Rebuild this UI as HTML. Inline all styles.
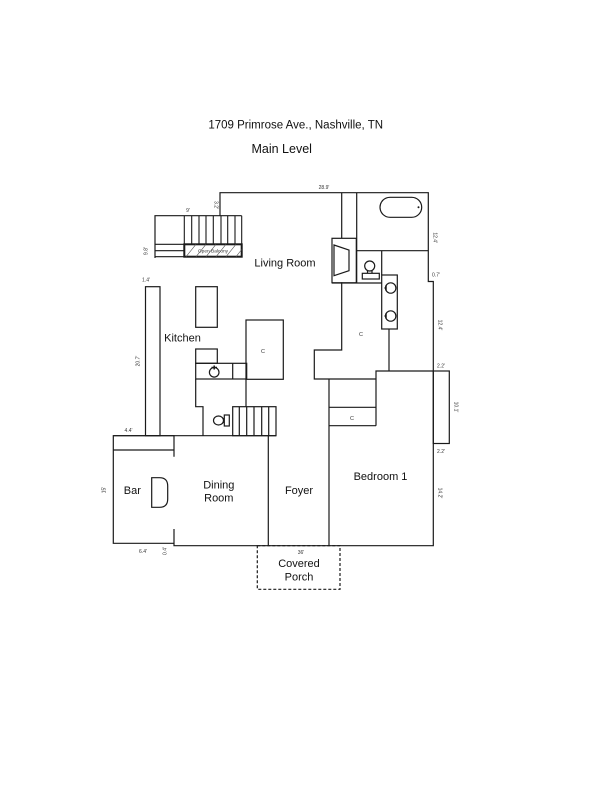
<!DOCTYPE html>
<html><head><meta charset="utf-8"><style>
html,body{margin:0;padding:0;background:#fff;}
svg{display:block;}
text{font-family:"Liberation Sans",Arial,sans-serif;}
</style></head><body>
<svg width="612" height="792" viewBox="0 0 612 792" xmlns="http://www.w3.org/2000/svg">
<rect width="612" height="792" fill="#fff"/>
<text x="295.7" y="128.5" font-size="11.5" text-anchor="middle" fill="#111">1709 Primrose Ave., Nashville, TN</text>
<text x="281.7" y="153" font-size="12.5" text-anchor="middle" fill="#111">Main Level</text>

<g fill="none" stroke="#1a1a1a" stroke-width="1.2">
<!-- outer main walls -->
<path d="M220,215.7 V192.7 H428.3 V281.5 H433.3 V545.7 H174 V529"/>
<path d="M174,456.7 V435.7 H113.3 V543.3 H174"/>
<path d="M113.3,450 H174"/>
<path d="M113.3,435.7 H276"/>
<!-- left column -->
<rect x="145.5" y="286.7" width="14.5" height="149"/>
<!-- upper left -->
<path d="M155,258 V215.7 H241.7"/>
<g stroke-width="1.1">
<path d="M184.3,215.7 V244.3 M191.7,215.7 V244.3 M199,215.7 V244.3 M206,215.7 V244.3 M213.3,215.7 V244.3 M221,215.7 V244.3 M227.7,215.7 V244.3 M235,215.7 V244.3 M241.7,215.7 V244.3"/>
</g>
<path d="M155,244.3 H241.7 M155,250.7 H184.3 M155,256.7 H184.3"/>
<rect x="184.3" y="244.3" width="57.4" height="12.4" stroke-width="2"/>
<g stroke-width="0.6" stroke="#555">
<path d="M186,256.7 L196,244.3 M196,256.7 L206,244.3 M206,256.7 L216,244.3 M216,256.7 L226,244.3 M226,256.7 L236,244.3 M236,256.7 L241.7,249.5"/>
</g>
<!-- island -->
<rect x="195.7" y="286.7" width="21.6" height="40.6"/>
<!-- closet C kitchen -->
<rect x="246" y="320" width="37.3" height="59.3"/>
<!-- counter -->
<rect x="195.7" y="349" width="21.6" height="14.3"/>
<rect x="195.7" y="363.3" width="51" height="15.7"/>
<path d="M232.7,363.3 V379"/>
<circle cx="214.2" cy="372.3" r="4.8"/>
<path d="M211.5,367.5 H217 M214.2,365.5 V369.5" stroke-width="1.5"/>
<!-- left hall wall -->
<path d="M195.7,379 V406.7 H203 V435.7"/>
<path d="M246,379 V406.7"/>
<!-- lower stairs -->
<rect x="232.7" y="406.7" width="43.3" height="29"/>
<path d="M239.3,406.7 V435.7 M246.7,406.7 V435.7 M254,406.7 V435.7 M261.7,406.7 V435.7 M268.7,406.7 V435.7"/>
<!-- lower toilet -->
<ellipse cx="218.5" cy="420.5" rx="5" ry="4.5"/>
<rect x="224.3" y="415" width="5" height="11"/>
<path d="M223.3,418.5 H224.3 M223.3,422.5 H224.3"/>
<!-- foyer / bedroom walls -->
<path d="M268.3,435.7 V545.7"/>
<path d="M329,379 V545.7"/>
<!-- hallway -->
<path d="M341.7,192.7 V238.3"/>
<path d="M341.7,282.3 V350 H314.3 V379 H376"/>
<path d="M376,425.7 V371 H433.3"/>
<path d="M329,407.3 H376 M329,425.7 H376"/>
<path d="M389,329 V371"/>
<!-- fireplace -->
<rect x="332" y="238.3" width="24.3" height="44.5"/>
<path d="M334,245 L349,250 V270.7 L334,275.7 Z"/>
<!-- bathroom -->
<path d="M356.7,192.7 V283"/>
<path d="M356.7,250.7 H428.3"/>
<path d="M332,283 H381.7"/>
<path d="M381.7,250.7 V275"/>
<rect x="380" y="197.3" width="41.7" height="20" rx="10" ry="10"/>
<!-- upper toilet -->
<circle cx="369.7" cy="266" r="5"/>
<rect x="362.3" y="273.3" width="17" height="5.7"/>
<path d="M367.5,271 V273.3 M372,271 V273.3"/>
<!-- vanity -->
<rect x="381.7" y="275" width="15.6" height="54"/>
<circle cx="390.7" cy="288" r="5.2"/>
<circle cx="390.7" cy="316" r="5.2"/>
<path d="M386,285.5 V290.5 M384.5,288 H386 M386,313.5 V318.5 M384.5,316 H386" stroke-width="1.5"/>
<!-- right bump -->
<rect x="433.3" y="371" width="16" height="72.5"/>
<!-- bar counter -->
<path d="M151.7,477.7 H159.5 Q167.7,477.7 167.7,486 V499 Q167.7,507.3 159.5,507.3 H151.7 Z"/>
<!-- porch -->
<rect x="257.3" y="545.7" width="82.7" height="43.6" stroke-dasharray="3,2"/>
</g>
<circle cx="418.5" cy="207.3" r="1" fill="#1a1a1a"/>

<!-- room labels -->
<g font-size="11" fill="#111" text-anchor="middle">
<text x="285" y="266.5">Living Room</text>
<text x="182.5" y="341.5">Kitchen</text>
<text x="132.3" y="494">Bar</text>
<text x="218.8" y="488.5">Dining</text>
<text x="218.8" y="501.5">Room</text>
<text x="299" y="494">Foyer</text>
<text x="380.5" y="480">Bedroom 1</text>
<text x="299" y="567">Covered</text>
<text x="299" y="580.5">Porch</text>
</g>

<!-- dims -->
<g font-size="5" fill="#333" text-anchor="middle">
<text x="324" y="189">28.9'</text>
<text x="188" y="212">9'</text>
<text x="146" y="281.5">1.4'</text>
<text x="128.5" y="432">4.4'</text>
<text x="143" y="553">6.4'</text>
<text x="301" y="554">36'</text>
<text x="436" y="276.5">0.7'</text>
<text x="441" y="367.5">2.2'</text>
<text x="441" y="453">2.2'</text>
<text x="263" y="353" font-size="5.5">C</text>
<text x="361" y="336" font-size="5.5">C</text>
<text x="352" y="420" font-size="5.5">C</text>
<text x="213" y="252.3" font-size="4.8">Open Balcony</text>
<text transform="translate(214.5,205) rotate(90)">3.2'</text>
<text transform="translate(147.5,251) rotate(-90)">9.8'</text>
<text transform="translate(139.5,361) rotate(-90)">20.7'</text>
<text transform="translate(105.5,490) rotate(-90)">15'</text>
<text transform="translate(166.5,551) rotate(-90)">0.4'</text>
<text transform="translate(433.5,237.7) rotate(90)">12.4'</text>
<text transform="translate(438.5,325) rotate(90)">12.4'</text>
<text transform="translate(454.5,407) rotate(90)">10.1'</text>
<text transform="translate(438.5,493) rotate(90)">14.2'</text>
</g>
</svg>
</body></html>
